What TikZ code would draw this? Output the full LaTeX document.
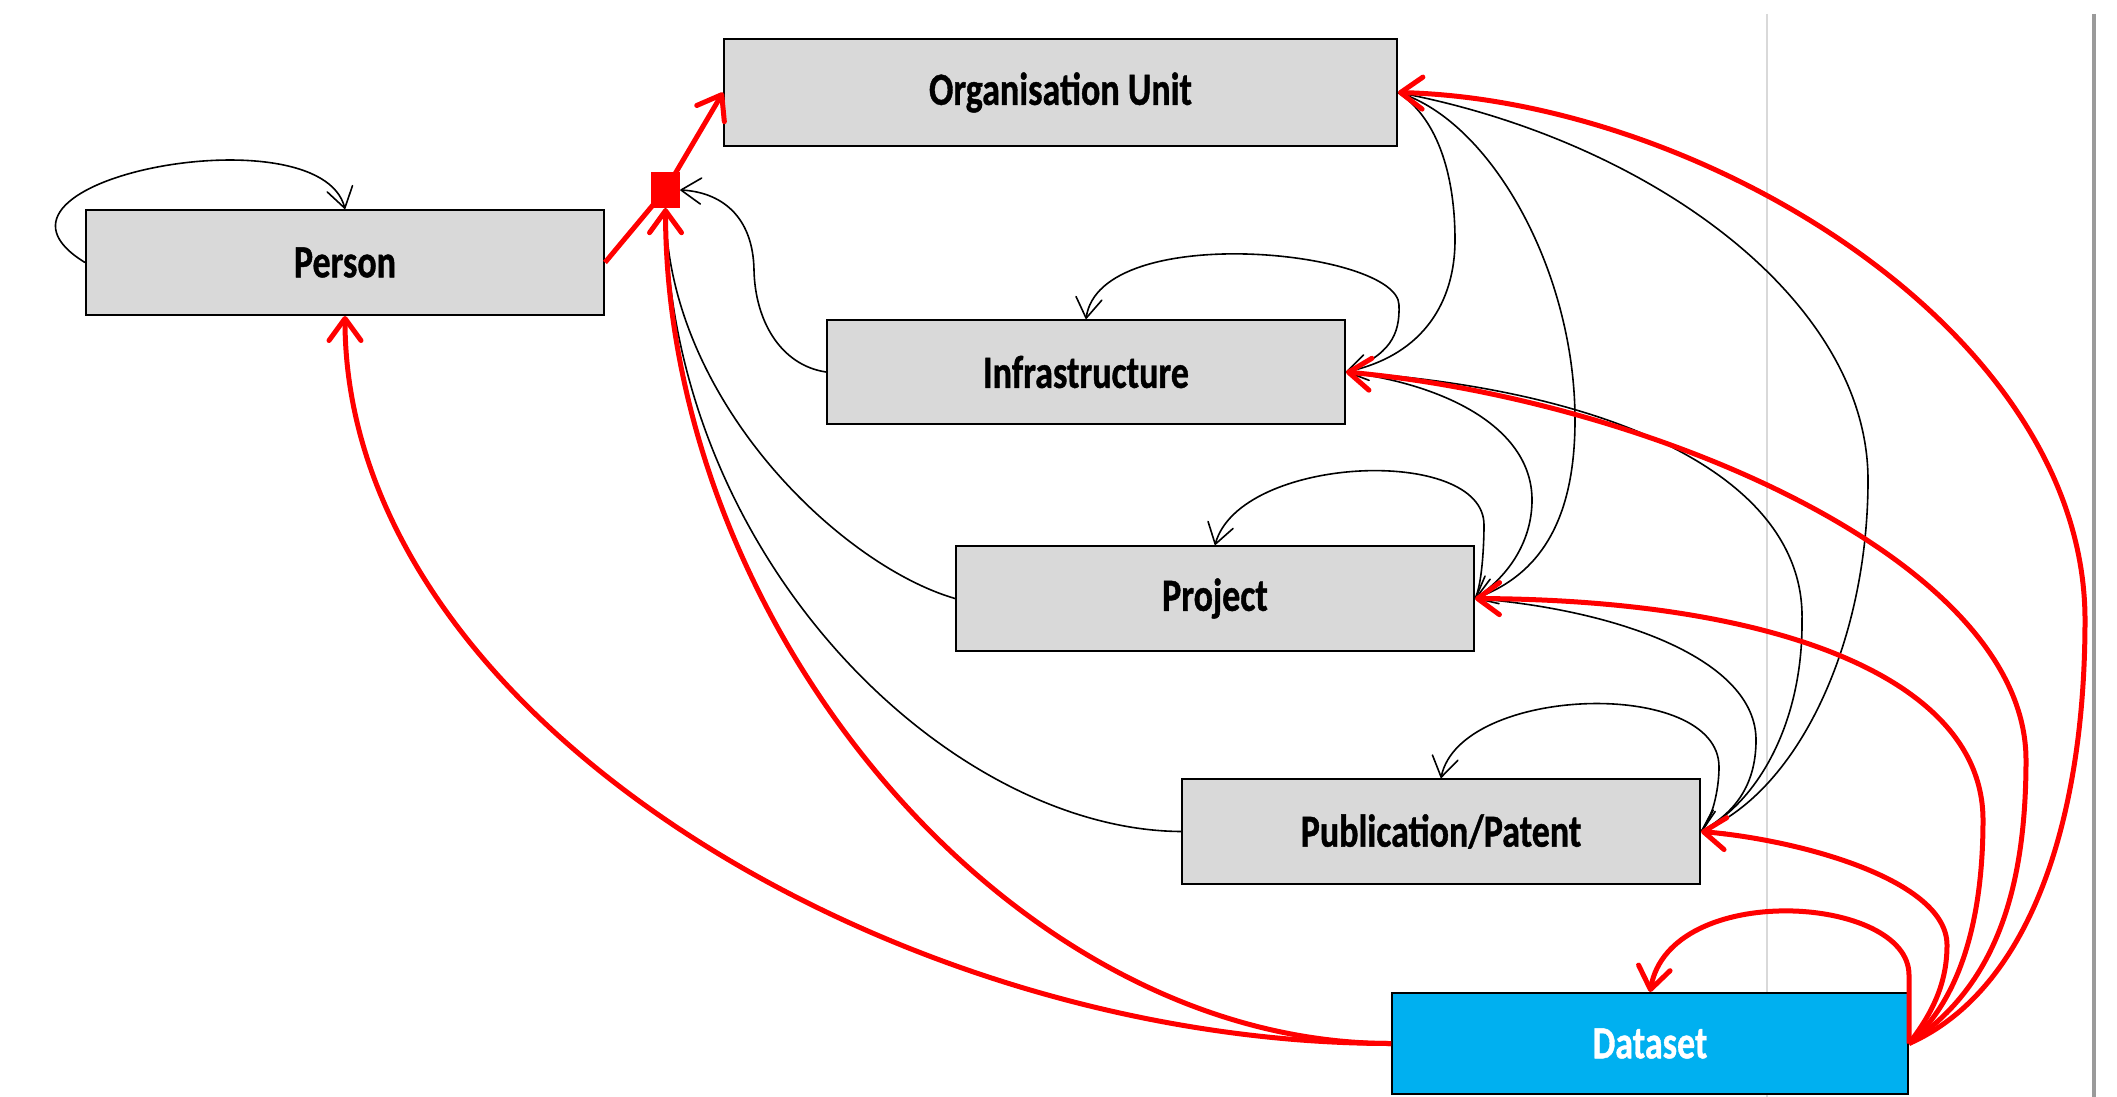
\documentclass[tikz,border=0pt]{standalone}
\usepackage{graphicx}
\usepackage{fontspec}
\setmainfont{Carlito}[BoldFeatures={FakeBold=1}]
\usetikzlibrary{arrows.meta}
\definecolor{boxgray}{HTML}{D9D9D9}
\definecolor{dsblue}{HTML}{00B0F0}
\definecolor{lightrule}{HTML}{D9D9D9}
\definecolor{darkrule}{HTML}{9A9A9A}
\newcommand{\boxtext}[1]{\scalebox{1}[1.28]{#1}}
\begin{document}
\begin{tikzpicture}[x=1pt,y=-1pt,
  box/.style={draw=black, line width=2pt, fill=boxgray, minimum height=105pt, minimum width=518pt, inner sep=0pt, font=\fontsize{36}{40}\selectfont\bfseries},
  blk/.style={draw=black, line width=1.6pt, -{Straight Barb[length=20pt,width=26pt,round]}},
  rd/.style={draw=red, line width=5pt, -{Straight Barb[length=22pt,width=32pt,round]}},
  rdline/.style={draw=red, line width=5pt}
]
\useasboundingbox (0,0) rectangle (2117,1097);
\fill[white] (0,0) rectangle (2117,1097);
% background rules
\draw[lightrule, line width=2pt] (1767,14) -- (1767,1097);
\draw[darkrule, line width=4pt] (2094,14) -- (2094,1097);
% boxes
\node[box, minimum width=673pt, minimum height=107pt] (org) at (1060.5,92.5) {\raisebox{-4pt}{\boxtext{Organisation Unit}}};
\node[box] (person) at (345,262.5) {\boxtext{Person}};
\node[box, minimum height=104pt] (infra) at (1086,372) {\boxtext{Infrastructure}};
\node[box] (proj) at (1215,598.5) {\boxtext{Project}};
\node[box] (pub) at (1441,831.5) {\boxtext{Publication/Patent}};
\node[box, fill=dsblue, text=white, minimum width=516pt, minimum height=101pt] (ds) at (1650,1043.5) {\boxtext{Dataset}};
\node[fill=red, minimum width=29pt, minimum height=36pt, inner sep=0pt] (sq) at (665.5,190) {};
% black self loops
\draw[blk] (person.west) .. controls (-50,180) and (320,110) .. (person.north);
\draw[blk] (infra.east) .. controls (1390,355) and (1400,335) .. (1399,305) .. controls (1398,250) and (1100,220) .. (infra.north);
\draw[blk] (proj.east) .. controls (1482,585) and (1484,545) .. (1484,525) .. controls (1484,445) and (1240,455) .. (proj.north);
\draw[blk] (pub.east) .. controls (1712,820) and (1719,790) .. (1719,767) .. controls (1719,677) and (1460,685) .. (pub.north);
% black connectors on the right
\draw[blk] (org.east) .. controls (1440,120) and (1455,180) .. (1455,240) .. controls (1455,300) and (1425,355) .. (infra.east);
\draw[blk] (org.east) .. controls (1490,120) and (1575,270) .. (1575,420) .. controls (1575,520) and (1540,575) .. (proj.east);
\draw[blk] (org.east) .. controls (1650,140) and (1868,300) .. (1868,480) .. controls (1868,640) and (1800,790) .. (pub.east);
\draw[blk] (infra.east) .. controls (1450,385) and (1532,430) .. (1532,500) .. controls (1532,540) and (1510,575) .. (proj.east);
\draw[blk] (infra.east) .. controls (1620,390) and (1805,480) .. (1802,620) .. controls (1803,720) and (1760,800) .. (pub.east);
\draw[blk] (proj.east) .. controls (1620,610) and (1756,660) .. (1756,740) .. controls (1756,790) and (1730,815) .. (pub.east);
% black connectors to the junction square
\draw[blk] (infra.west) .. controls (780,365) and (755,320) .. (754,270) .. controls (753,215) and (720,192) .. (sq.east);
\draw[blk] (proj.west) .. controls (840,565) and (668,400) .. (sq.south);
\draw[blk] (pub.west) .. controls (950,830) and (668,560) .. (sq.south);
% red connectors
\draw[rdline] (person.east) -- (sq.center);
\draw[rd] (sq.center) -- (org.west);
\draw[rd] (ds.west) .. controls (892,1043.5) and (345,715) .. (person.south);
\draw[rd] (ds.west) .. controls (1012,1043.5) and (666,628) .. (sq.south);
\draw[rd] (ds.east) .. controls (1909,1020) and (1909,1000) .. (1909,975) .. controls (1909,895) and (1670,880) .. (ds.north);
\draw[rd] (ds.east) .. controls (1935,1010) and (1947,980) .. (1947,945) .. controls (1947,880) and (1800,840) .. (pub.east);
\draw[rd] (ds.east) .. controls (1960,1000) and (1983,920) .. (1983,820) .. controls (1983,680) and (1780,600) .. (proj.east);
\draw[rd] (ds.east) .. controls (1990,990) and (2026,900) .. (2026,760) .. controls (2026,560) and (1650,400) .. (infra.east);
\draw[rd] (ds.east) .. controls (2030,990) and (2085,820) .. (2085,620) .. controls (2085,330) and (1700,100) .. (org.east);
\end{tikzpicture}
\end{document}
